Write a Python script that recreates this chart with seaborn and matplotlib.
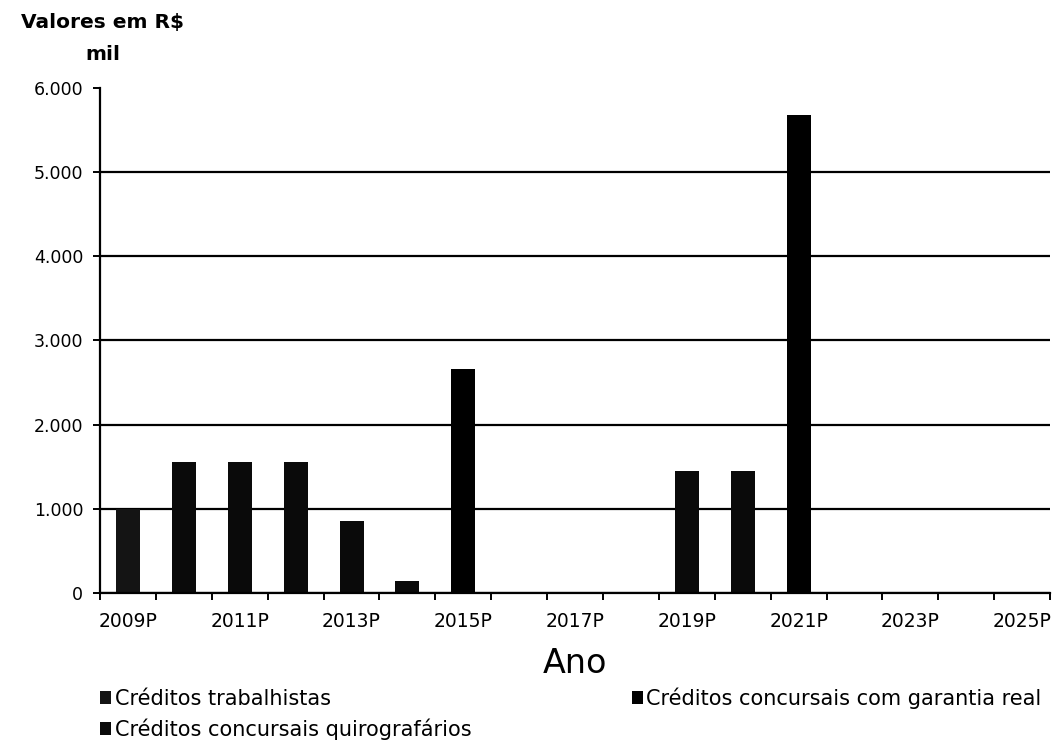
import numpy as np
import pandas as pd
import matplotlib
matplotlib.use("Agg")
import matplotlib.pyplot as plt
from matplotlib.patches import Patch
import seaborn as sns

# Payment schedule (R$ mil) by year
anos = [f"{a}P" for a in range(2009, 2026)]
trabalhistas = [1000, 0, 0, 0, 0, 0, 0, 0, 0, 0, 0, 0, 0, 0, 0, 0, 0]
quirografarios = [0, 1560, 1555, 1550, 860, 140, 0, 0, 0, 0, 1450, 1450, 0, 0, 0, 0, 0]
garantia_real = [0, 0, 0, 0, 0, 0, 2660, 0, 0, 0, 0, 0, 5680, 0, 0, 0, 0]

series_nomes = ["Créditos trabalhistas",
                "Créditos concursais quirografários",
                "Créditos concursais com garantia real"]
series_cores = ["#141414", "#0a0a0a", "#000000"]
yticks = [0, 1000, 2000, 3000, 4000, 5000, 6000]
ytick_labels = ["0", "1.000", "2.000", "3.000", "4.000", "5.000", "6.000"]

df = pd.DataFrame({"ano": anos, "trab": trabalhistas,
                   "quiro": quirografarios, "gar": garantia_real})

sns.set_style("white")
plt.rcParams["font.family"] = ["DejaVu Sans"]
plt.rcParams["text.color"] = "black"
plt.rcParams["xtick.color"] = "black"
plt.rcParams["ytick.color"] = "black"
plt.rcParams["axes.labelcolor"] = "black"

fig = plt.figure(figsize=(10.64, 7.44), dpi=100)
ax = fig.add_axes([0.094, 0.203, 0.893, 0.679])

base = np.zeros(len(anos))
for col, cor in zip(["trab", "quiro", "gar"], series_cores):
    sns.barplot(data=df, x="ano", y=col, order=anos, color=cor,
                width=0.43, bottom=base, ax=ax, linewidth=0, saturation=1)
    base = base + df[col].to_numpy()

ax.set_xlim(-0.5, len(anos) - 0.5)
ax.set_ylim(0, 6000)

# y axis
ax.set_yticks(yticks)
ax.set_yticklabels(ytick_labels, fontsize=12.5)
ax.yaxis.grid(True, color="black", linewidth=1.6)
ax.set_axisbelow(True)
ax.yaxis.get_gridlines()[-1].set_visible(False)
ax.tick_params(axis="y", direction="out", length=5, width=1.4, color="black",
               left=True, pad=7)

# x axis: labels on alternate years, tick marks between categories
ax.set_xticks(range(0, len(anos), 2))
ax.set_xticklabels(anos[::2], fontsize=13.5)
ax.set_xticks(np.arange(-0.5, len(anos), 1.0), minor=True)
ax.tick_params(axis="x", which="major", length=0, pad=14)
ax.tick_params(axis="x", which="minor", direction="out", length=5, width=1.4,
               color="black", bottom=True)
ax.set_xlabel("Ano", fontsize=24, labelpad=11)
ax.set_ylabel("")

for s in ["top", "right"]:
    ax.spines[s].set_visible(False)
for s in ["left", "bottom"]:
    ax.spines[s].set_color("black")
    ax.spines[s].set_linewidth(1.6)

# Unit caption above the value axis
fig.text(0.0968, 0.9624, "Valores em R$", ha="center", va="baseline",
         fontsize=14.5, fontweight="bold")
fig.text(0.0968, 0.919, "mil", ha="center", va="baseline",
         fontsize=14.5, fontweight="bold")

handles = [Patch(facecolor=c, edgecolor="none") for c in series_cores]
fig.legend(handles, series_nomes, ncol=2, loc="upper left",
           bbox_to_anchor=(0.094, 0.076), frameon=False, fontsize=15,
           handlelength=0.55, handleheight=0.55, handletextpad=0.15,
           columnspacing=7.7, labelspacing=0.45, borderaxespad=0,
           borderpad=0)

fig.savefig("out.png", dpi=100)
